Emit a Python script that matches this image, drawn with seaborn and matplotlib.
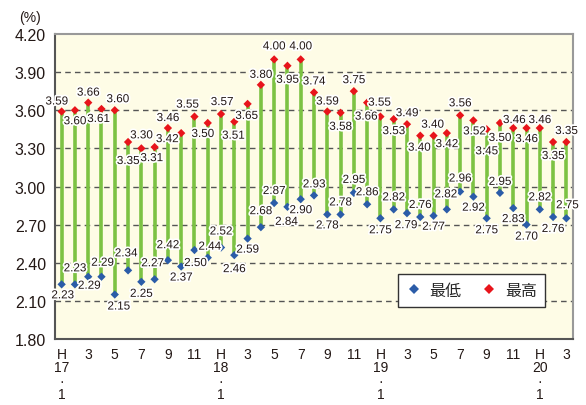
import numpy as np
import pandas as pd
import matplotlib
matplotlib.use("Agg")
import matplotlib.pyplot as plt
import seaborn as sns
from matplotlib import patheffects as pe
from matplotlib.ticker import FixedLocator, NullFormatter

# Monthly rate range, H17.1 - H20.3 (%)
month_labels = ["H\n17\n·\n1", "2", "3", "4", "5", "6", "7", "8", "9", "10", "11", "12",
                "H\n18\n·\n1", "2", "3", "4", "5", "6", "7", "8", "9", "10", "11", "12",
                "H\n19\n·\n1", "2", "3", "4", "5", "6", "7", "8", "9", "10", "11", "12",
                "H\n20\n·\n1", "2", "3"]
low = [2.23, 2.23, 2.29, 2.29, 2.15, 2.34, 2.25, 2.27, 2.42, 2.37, 2.50, 2.44,
       2.52, 2.46, 2.59, 2.68, 2.87, 2.84, 2.90, 2.93, 2.78, 2.78, 2.95, 2.86,
       2.75, 2.82, 2.79, 2.76, 2.77, 2.82, 2.96, 2.92, 2.75, 2.95, 2.83, 2.70,
       2.82, 2.76, 2.75]
high = [3.59, 3.60, 3.66, 3.61, 3.60, 3.35, 3.30, 3.31, 3.46, 3.42, 3.55, 3.50,
        3.57, 3.51, 3.65, 3.80, 4.00, 3.95, 4.00, 3.74, 3.59, 3.58, 3.75, 3.66,
        3.55, 3.53, 3.49, 3.40, 3.40, 3.42, 3.56, 3.52, 3.45, 3.50, 3.46, 3.46,
        3.46, 3.35, 3.35]
series_names = ["最低", "最高"]
y_ticks = [1.80, 2.10, 2.40, 2.70, 3.00, 3.30, 3.60, 3.90, 4.20]

# label offsets (pixels) so neighbouring value labels do not collide
high_off = [(-5, 10), (0, -11), (0, 10), (-3, -10), (3, 11), (0, -19), (0, 13), (-3, -11),
            (0, 10), (-14, -6), (-7, 12), (-5, -11), (1, 12), (-1, -14), (-1, -12), (0, 10),
            (0, 13), (0, -14), (0, 13), (0, 11), (0, 10), (0, -14), (0, 11), (-1, -14),
            (-1, 14), (0, -12), (0, 11), (-1, -12), (-1, 11), (0, -11), (0, 12), (1, -11),
            (0, -22), (0, -15), (1, 8), (0, -11), (0, 8), (0, -14), (0, 11)]
low_off = [(1, -11), (0, 16), (1, -9), (1, 14), (4, -12), (-2, 17), (0, -12), (-2, 16),
           (0, 15), (0, -11), (1, -13), (2, 11), (0, 16), (0, -14), (0, -11), (0, 16),
           (0, 12), (-1, -15), (0, -11), (0, 11), (0, -11), (0, 12), (0, 13), (0, 12),
           (0, -12), (0, 12), (-1, -12), (0, 12), (0, -11), (-1, 15), (0, 13), (0, -11),
           (0, -12), (0, 11), (0, -11), (0, -12), (0, 12), (0, -12), (1, 13)]

pos = np.arange(1, len(month_labels) + 1)
df = pd.DataFrame({
    "pos": np.concatenate([pos, pos]),
    "rate": low + high,
    "series": [series_names[0]] * len(low) + [series_names[1]] * len(high),
})

sns.set_style("white")
plt.rcParams["font.family"] = ["Liberation Sans", "Noto Sans CJK JP", "DejaVu Sans"]

fig = plt.figure(figsize=(5.86, 4.06), dpi=100)
ax = fig.add_axes([55 / 586, 1 - 340 / 406, (573 - 55) / 586, (340 - 35) / 406])
ax.set_facecolor("#FEFCE6")

GREEN = "#7CC243"
BLUE = "#2B5CA8"
RED = "#E8141B"
TEXT = "#231815"

ax.vlines(pos, low, high, color=GREEN, lw=2.6, zorder=2)
sns.scatterplot(data=df, x="pos", y="rate", hue="series", hue_order=series_names,
                palette=[BLUE, RED], marker="D", s=18, edgecolor="none",
                zorder=3, ax=ax)

halo = [pe.withStroke(linewidth=2.5, foreground="white")]
for vals, offs in ((high, high_off), (low, low_off)):
    for x, v, (dx, dy) in zip(pos, vals, offs):
        ax.annotate(f"{v:.2f}", (x, v), xytext=(dx, dy), textcoords="offset pixels",
                    ha="center", va="center", fontsize=8.4, color=TEXT,
                    path_effects=halo, zorder=5)

ax.set_xlim(0.5, len(pos) + 0.5)
ax.set_ylim(1.80, 4.20)
ax.set_yticks(y_ticks)
ax.set_yticklabels([f"{t:.2f}" for t in y_ticks], fontsize=11.5, color=TEXT)
ax.tick_params(axis="y", length=0, pad=6.5)

ax.xaxis.set_major_locator(FixedLocator(pos[::2]))
ax.set_xticklabels(month_labels[::2], fontsize=10, color=TEXT, linespacing=0.92)
ax.xaxis.set_minor_locator(FixedLocator(pos[:-1] + 0.3))
ax.xaxis.set_minor_formatter(NullFormatter())
ax.tick_params(axis="x", which="major", length=0, pad=6)
ax.tick_params(axis="x", which="minor", direction="in", length=4.5, width=1, color="#555555")

for t in y_ticks[1:-1]:
    ax.axhline(t, color="#555555", lw=1, ls=(0, (4, 3)), zorder=1)

ax.set_xlabel("")
ax.set_ylabel("")
for side in ["left", "bottom"]:
    ax.spines[side].set_color("#555555")
    ax.spines[side].set_linewidth(1.5)
for side in ["top", "right"]:
    ax.spines[side].set_color("#999999")
    ax.spines[side].set_linewidth(1.5)

fig.text(30 / 586, 1 - 18 / 406, "(%)", fontsize=10, ha="center", va="center", color=TEXT)

handles, labels = ax.get_legend_handles_labels()
leg = ax.legend(handles, labels, loc="lower right", bbox_to_anchor=(0.961, 0.079),
                ncol=2, frameon=True, fancybox=False,
                prop={"family": ["Noto Sans CJK JP"], "size": 11.5},
                handlelength=1.0, handletextpad=0.5, columnspacing=1.2,
                borderpad=0.5, markerscale=1.25)
leg.get_frame().set_edgecolor("#333333")
leg.get_frame().set_linewidth(1.0)
leg.get_frame().set_facecolor("white")
leg.get_frame().set_alpha(1)
leg.set_zorder(6)

fig.savefig("out.png", dpi=100, facecolor="white")
